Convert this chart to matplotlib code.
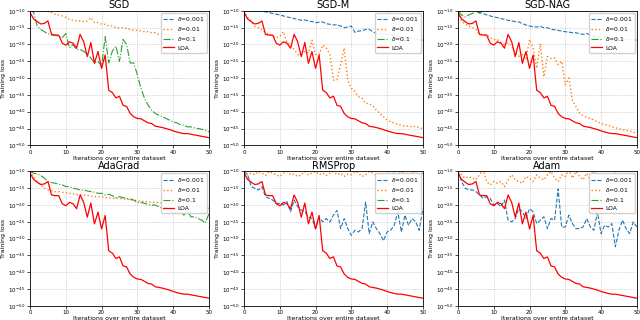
import numpy as np
import matplotlib
matplotlib.use("Agg")
import matplotlib.pyplot as plt

nan = np.nan
iters = list(range(51))

# log10 of training loss; nan = off the top of the plot
loa = [-1.05, -1.24, -1.32, -1.39, -1.37, -1.30, -1.70, -1.72, -1.72, -1.96,
       -2.02, -1.92, -1.96, -2.11, -1.70, -1.92, -2.36, -1.94, -2.56, -2.21,
       -2.71, -2.31, -3.36, -3.43, -3.59, -3.54, -3.81, -3.84, -4.05, -4.15,
       -4.20, -4.21, -4.27, -4.33, -4.35, -4.43, -4.45, -4.47, -4.50, -4.53,
       -4.57, -4.60, -4.63, -4.65, -4.65, -4.67, -4.69, -4.71, -4.73, -4.75,
       -4.77]

none = [nan] * 51

sgd_01 = [-0.95, -1.05, -1.45, -1.55, -1.62, -1.68, -1.72, -1.73, -1.75, -1.80,
          -1.67, -2.10, -2.00, -2.15, -2.15, -2.20, -2.30, -2.40, -2.55, -2.50,
          -2.65, -1.77, -2.55, -2.20, -2.05, -2.50, -1.85, -2.00, -2.55, -2.55,
          -2.90, -3.30, -3.60, -3.80, -3.95, -4.05, -4.10, -4.15, -4.20, -4.25,
          -4.30, -4.33, -4.38, -4.40, -4.45, -4.45, -4.48, -4.50, -4.52, -4.55,
          -4.60]
sgd_001 = [nan, nan, nan, nan, -0.95, -1.02, -1.05, -1.10, -1.12, -1.15,
           -1.20, -1.25, -1.28, -1.30, -1.30, -1.32, -1.30, -1.20, -1.35, -1.35,
           -1.40, -1.40, -1.45, -1.45, -1.50, -1.50, -1.50, -1.52, -1.55, -1.58,
           -1.58, -1.60, -1.62, -1.62, -1.65, -1.65, -1.70, -1.68, -1.70, -1.72,
           -1.65, -1.60, -1.65, -1.70, -1.72, -1.65, -1.72, -1.75, -1.75, -1.85,
           -1.95]

sgdm_0001 = [nan, nan, nan, nan, -0.95, -1.00, -1.03, -1.05, -1.08, -1.10,
             -1.12, -1.15, -1.18, -1.20, -1.23, -1.25, -1.28, -1.27, -1.30, -1.32,
             -1.35, -1.34, -1.33, -1.38, -1.40, -1.42, -1.41, -1.45, -1.50, -1.48,
             -1.45, -1.64, -1.60, -1.59, -1.55, -1.55, -1.62, -1.67, -1.68, -1.70,
             -1.70, -1.72, -1.74, -1.75, -1.78, -1.80, -1.80, -1.82, -1.84, -1.85,
             -1.87]
sgdm_001 = [-1.00, -1.20, -1.30, -1.47, -1.50, -1.55, -1.65, -1.70, -1.75, -1.80,
            -1.75, -1.62, -1.95, -2.00, -2.15, -2.30, -2.30, -2.20, -2.25, -1.87,
            -2.30, -2.30, -2.02, -2.10, -2.30, -3.06, -3.05, -2.60, -2.11, -3.06,
            -3.30, -3.40, -3.55, -3.60, -3.75, -3.76, -3.82, -3.95, -4.05, -4.15,
            -4.25, -4.30, -4.33, -4.38, -4.40, -4.43, -4.42, -4.45, -4.43, -4.48,
            -4.50]

nag_0001 = [nan, nan, nan, nan, -0.97, -1.00, -1.05, -1.08, -1.12, -1.15,
            -1.18, -1.20, -1.23, -1.25, -1.28, -1.30, -1.32, -1.33, -1.38, -1.42,
            -1.45, -1.47, -1.48, -1.46, -1.50, -1.50, -1.55, -1.56, -1.58, -1.60,
            -1.62, -1.63, -1.65, -1.65, -1.68, -1.70, -1.67, -1.72, -1.75, -1.76,
            -1.77, -1.78, -1.79, -1.80, -1.82, -1.83, -1.84, -1.85, -1.86, -1.86,
            -1.87]
nag_001 = [-1.05, -1.30, -1.40, -1.45, -1.50, -1.55, -1.70, -1.70, -1.72, -1.80,
           -1.85, -1.85, -1.95, -2.00, -1.95, -2.05, -2.25, -2.35, -2.30, -2.45,
           -1.85, -2.10, -2.71, -1.97, -2.96, -2.36, -2.42, -2.40, -2.60, -2.50,
           -3.20, -3.00, -3.66, -3.85, -4.05, -4.12, -4.17, -4.20, -4.25, -4.30,
           -4.35, -4.38, -4.40, -4.45, -4.48, -4.50, -4.53, -4.55, -4.58, -4.60,
           -4.65]
nag_01 = [-1.00, -1.12, -1.18, -1.12, -1.08, -1.00, -1.07, -0.98, nan, nan] + [nan] * 41

ada_001 = [-1.00, -1.15, -1.30, -1.40, -1.50, -1.55, -1.57, -1.60, -1.60, -1.62,
           -1.63, -1.65, -1.67, -1.68, -1.70, -1.70, -1.72, -1.72, -1.75, -1.75,
           -1.75, -1.78, -1.78, -1.80, -1.80, -1.80, -1.82, -1.82, -1.85, -1.85,
           -1.88, -1.88, -1.90, -1.90, -1.92, -1.92, -1.93, -1.94, -1.95, -1.95,
           -1.95, -1.97, -1.97, -1.98, -2.00, -2.00, -2.02, -2.05, -2.07, -2.08,
           -2.10]
ada_01 = [-1.00, -1.05, -1.08, -1.12, -1.20, -1.30, -1.33, -1.35, -1.38, -1.40,
          -1.45, -1.45, -1.50, -1.52, -1.55, -1.55, -1.58, -1.60, -1.62, -1.65,
          -1.65, -1.70, -1.68, -1.72, -1.78, -1.75, -1.78, -1.80, -1.82, -1.85,
          -1.93, -1.92, -1.95, -1.98, -2.00, -2.00, -2.05, -2.10, -2.05, -2.15,
          -2.25, -2.20, -2.15, -2.30, -2.18, -2.35, -2.35, -2.40, -2.45, -2.54,
          -2.26]

rms_0001 = [-1.00, -1.10, -1.45, -1.50, -1.55, -1.45, -1.75, -1.80, -1.85, -1.95,
            -1.95, -2.00, -1.90, -2.20, -1.85, -2.05, -2.15, -2.20, -2.35, -2.40,
            -2.70, -2.36, -2.50, -2.40, -2.50, -2.30, -2.16, -2.70, -2.40, -2.70,
            -2.90, -2.75, -2.80, -2.70, -1.91, -2.85, -2.50, -2.70, -2.85, -3.06,
            -2.80, -2.75, -2.60, -2.20, -2.80, -2.30, -2.60, -2.40, -2.50, -2.75,
            -2.11]
rms_001 = [-1.00, -1.10, -1.05, -1.10, -1.00, -1.05, -1.12, -1.00, -1.05, -1.10,
           -1.15, -1.05, -1.00, -1.10, -1.08, -1.15, -1.10, -1.00, -1.10, -1.05,
           -1.00, -1.10, -1.05, -1.12, -1.05, -1.00, -1.10, -1.05, -1.15, -1.08,
           -1.10, -1.00, -1.05, -1.15, -1.10, -1.00, -1.05, -1.12, -1.05, -1.10,
           -1.00, -1.08, -1.05, -1.10, -1.00, -1.05, -1.10, -1.05, -1.00, -1.08,
           -1.05]

adam_0001 = [-1.00, -1.30, -1.50, -1.55, -1.55, -1.60, -1.70, -1.80, -1.75, -1.80,
             -2.00, -1.95, -2.05, -1.85, -2.45, -2.50, -2.40, -2.10, -2.20, -2.40,
             -2.11, -2.20, -2.55, -2.45, -2.35, -2.70, -2.40, -2.45, -1.52, -2.66,
             -2.65, -2.30, -2.55, -2.70, -2.70, -2.65, -2.40, -2.65, -2.75, -2.21,
             -2.85, -2.60, -2.65, -2.55, -3.24, -2.75, -2.45, -2.70, -2.85, -2.50,
             -2.65]
adam_001 = [-1.00, -1.10, -1.20, -1.15, -1.20, -1.25, -1.10, -0.95, -1.30, -1.40,
            -1.30, -1.35, -1.30, -1.45, -1.25, -1.10, -1.25, -1.30, -1.35, -1.15,
            -1.20, -1.30, -1.10, -1.20, -1.25, -1.10, -1.00, -1.20, -1.30, -1.10,
            -1.15, -0.95, -1.20, -1.00, -1.15, -1.25, -1.05, -1.25, -1.00, -1.10,
            -1.05, -1.15, -1.10, -1.20, -1.05, -1.15, -1.10, -1.20, -1.05, -1.10,
            -1.00]

panels = [
    ("SGD", none, sgd_001, sgd_01),
    ("SGD-M", sgdm_0001, sgdm_001, none),
    ("SGD-NAG", nag_0001, nag_001, nag_01),
    ("AdaGrad", none, ada_001, ada_01),
    ("RMSProp", rms_0001, rms_001, none),
    ("Adam", adam_0001, adam_001, none),
]

yticks = [-5.0, -4.5, -4.0, -3.5, -3.0, -2.5, -2.0, -1.5, -1.0]

fig, axes = plt.subplots(2, 3, figsize=(6.4, 3.2), dpi=100)
fig.subplots_adjust(left=0.047, right=0.995, top=0.966, bottom=0.044,
                    wspace=0.197, hspace=0.194)

for ax, (name, d1, d2, d3) in zip(axes.flat, panels):
    ax.plot(iters, d1, color="#1f77b4", ls="--", lw=0.8, label=r"$\delta$=0.001")
    ax.plot(iters, d2, color="#ff7f0e", ls=":", lw=1.0, label=r"$\delta$=0.01")
    ax.plot(iters, d3, color="#2ca02c", ls="-.", lw=0.8, label=r"$\delta$=0.1")
    ax.plot(iters, loa, color="red", lw=0.9, label="LOA")
    ax.set_xlim(0, 50)
    ax.set_ylim(-5.0, -1.0)
    ax.set_xticks([0, 10, 20, 30, 40, 50])
    ax.set_yticks(yticks)
    ax.set_yticklabels([r"$10^{%.1f}$" % t for t in yticks])
    ax.tick_params(labelsize=4, length=2, width=0.5, pad=1)
    ax.grid(True, ls=":", lw=0.5, color="#b0b0b0")
    ax.set_title(name, fontsize=7, pad=2)
    ax.set_xlabel("Iterations over entire dataset", fontsize=4.5, labelpad=1)
    ax.set_ylabel("Training loss", fontsize=4.5, labelpad=1)
    for s in ax.spines.values():
        s.set_linewidth(0.6)
    ax.legend(loc="upper right", fontsize=4.3, handlelength=1.8, borderpad=0.4,
              labelspacing=0.35, handletextpad=0.6, borderaxespad=0.3,
              framealpha=0.9)

fig.savefig("out.png", dpi=100)
